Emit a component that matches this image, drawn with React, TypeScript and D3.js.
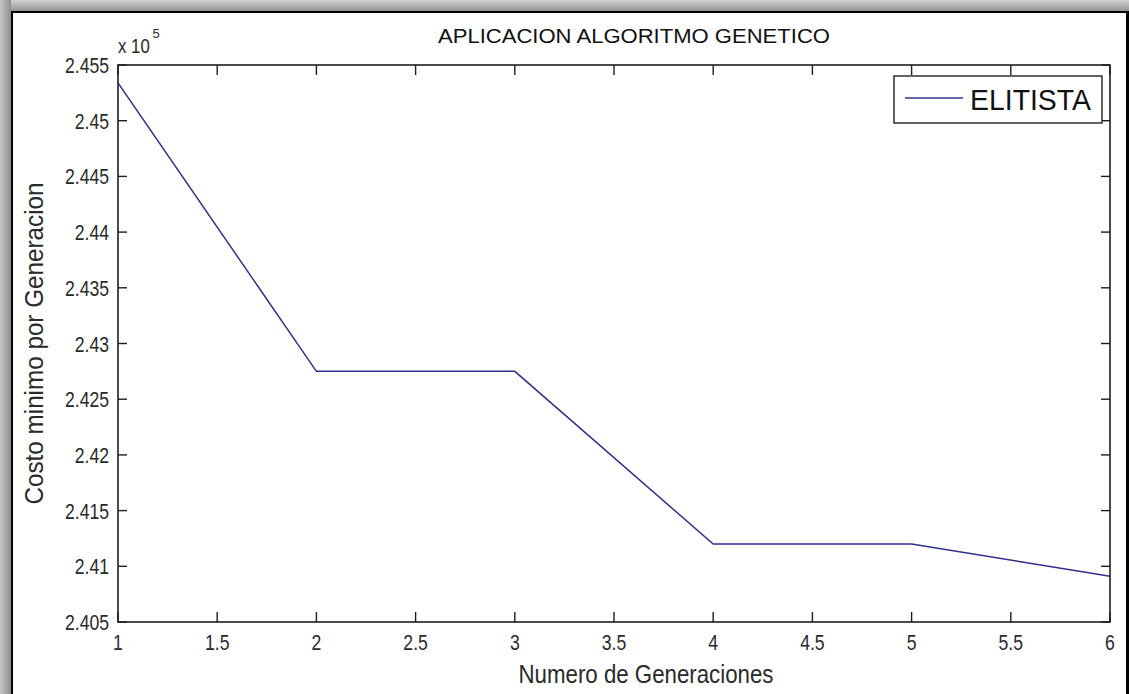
import React from 'react';
import * as d3 from 'd3';

const generations = [1, 2, 3, 4, 5, 6];
const costMin = [245340, 242750, 242750, 241200, 241200, 240910];
const xTickValues = [1, 1.5, 2, 2.5, 3, 3.5, 4, 4.5, 5, 5.5, 6];
const xTickLabels = ['1', '1.5', '2', '2.5', '3', '3.5', '4', '4.5', '5', '5.5', '6'];
const yTickValues = [240500, 241000, 241500, 242000, 242500, 243000, 243500, 244000, 244500, 245000, 245500];
const yTickLabels = ['2.405', '2.41', '2.415', '2.42', '2.425', '2.43', '2.435', '2.44', '2.445', '2.45', '2.455'];
const titleText = 'APLICACION ALGORITMO GENETICO';
const xLabelText = 'Numero de Generaciones';
const yLabelText = 'Costo minimo por Generacion';
const seriesNames = ['ELITISTA'];

const W = 1129;
const H = 694;
const L = 118, R = 1110, T = 65, B = 622;
const FONT = '"Liberation Sans", Arial, Helvetica, sans-serif';
const lineColor = '#30308e';
const axisColor = '#1e1e1e';
const textColor = '#2a2a2a';
const TICK_FS = 22;
const TICK_SX = 0.8;

export default function App() {
  const x = d3.scaleLinear().domain([1, 6]).range([L, R]);
  const y = d3.scaleLinear().domain([240500, 245500]).range([B, T]);
  const pts = generations.map((g, i) => [x(g), y(costMin[i])] as [number, number]);
  const path = d3.line()(pts) || '';

  return (
    <svg width={W} height={H} style={{ position: 'absolute', left: 0, top: 0, display: 'block' }} fontFamily={FONT}>
      <defs>
        <linearGradient id="gl" x1="0" x2="1" y1="0" y2="0">
          <stop offset="0" stopColor="#c6c6c6" />
          <stop offset="1" stopColor="#8e8e8e" />
        </linearGradient>
        <linearGradient id="gt" x1="0" x2="0" y1="0" y2="1">
          <stop offset="0" stopColor="#d2d2d2" />
          <stop offset="1" stopColor="#8e8e8e" />
        </linearGradient>
      </defs>
      <rect x={0} y={0} width={W} height={H} fill="#ffffff" />
      <rect x={0} y={0} width={W} height={12} fill="url(#gt)" />
      <rect x={0} y={0} width={11} height={H} fill="url(#gl)" />
      <rect x={11} y={11} width={2} height={H - 11} fill="#000" />
      <rect x={11} y={11} width={W - 11} height={2} fill="#000" />
      <rect x={1126} y={11} width={3} height={H - 11} fill="#000" />

      {/* title */}
      <text x={634} y={43} fontSize={21} textAnchor="middle" fill="#111" textLength={392} lengthAdjust="spacingAndGlyphs">{titleText}</text>

      {/* ticks */}
      {xTickValues.map((v, i) => (
        <g key={'xt' + i}>
          <line x1={x(v)} x2={x(v)} y1={B} y2={B - 10} stroke={axisColor} strokeWidth={1.4} />
          <line x1={x(v)} x2={x(v)} y1={T} y2={T + 10} stroke={axisColor} strokeWidth={1.4} />
          <text transform={`translate(${x(v)}, 650) scale(${TICK_SX}, 1)`} fontSize={TICK_FS} textAnchor="middle" fill={textColor}>{xTickLabels[i]}</text>
        </g>
      ))}
      {yTickValues.map((v, i) => (
        <g key={'yt' + i}>
          <line x1={L} x2={L + 9} y1={y(v)} y2={y(v)} stroke={axisColor} strokeWidth={1.4} />
          <line x1={R} x2={R - 9} y1={y(v)} y2={y(v)} stroke={axisColor} strokeWidth={1.4} />
          <text transform={`translate(109, ${y(v) + 8}) scale(${TICK_SX}, 1)`} fontSize={TICK_FS} textAnchor="end" fill={textColor}>{yTickLabels[i]}</text>
        </g>
      ))}

      {/* exponent */}
      <text transform="translate(118, 53) scale(0.8, 1)" fontSize={21} fill={textColor}>x 10</text>
      <text x={152.5} y={38} fontSize={13} fill={textColor}>5</text>

      {/* data line */}
      <path d={path} fill="none" stroke={lineColor} strokeWidth={1.5} />

      {/* axes box */}
      <rect x={L} y={T} width={R - L} height={B - T} fill="none" stroke={axisColor} strokeWidth={1.6} />

      {/* legend */}
      <rect x={894} y={76} width={208} height={47} fill="#fff" stroke="#222" strokeWidth={1.4} />
      <line x1={905} x2={963} y1={98} y2={98} stroke={lineColor} strokeWidth={1.5} />
      <text x={970} y={110} fontSize={30} fill="#111" textLength={121} lengthAdjust="spacingAndGlyphs">{seriesNames[0]}</text>

      {/* axis labels */}
      <text x={646} y={683} fontSize={25} textAnchor="middle" fill={textColor} textLength={255} lengthAdjust="spacingAndGlyphs">{xLabelText}</text>
      <text transform={`translate(43, ${(T + B) / 2}) rotate(-90)`} fontSize={25} textAnchor="middle" fill={textColor} textLength={322} lengthAdjust="spacingAndGlyphs">{yLabelText}</text>
    </svg>
  );
}
